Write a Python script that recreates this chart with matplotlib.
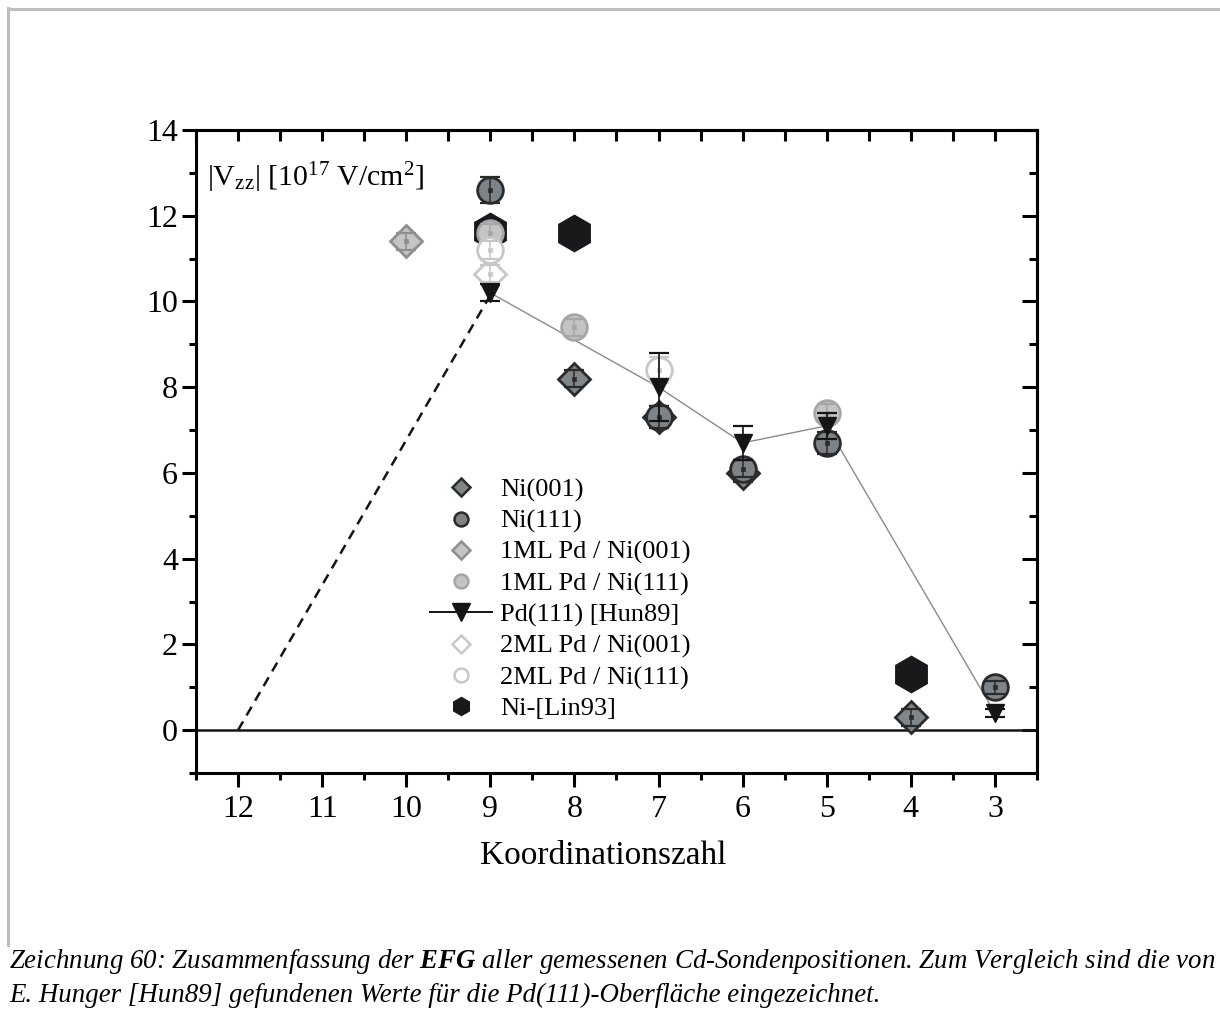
import matplotlib
matplotlib.use('Agg')
import matplotlib.pyplot as plt
from matplotlib.lines import Line2D
from matplotlib.ticker import MultipleLocator

plt.rcParams['font.family'] = ['Liberation Serif', 'DejaVu Serif']
plt.rcParams['mathtext.fontset'] = 'custom'
plt.rcParams['mathtext.rm'] = 'Liberation Serif'
plt.rcParams['mathtext.it'] = 'Liberation Serif:italic'
plt.rcParams['mathtext.bf'] = 'Liberation Serif:italic:bold'

# --- data (x = Koordinationszahl, y = |Vzz|) ---
ni001_x = [8, 7, 6, 4]
ni001_y = [8.2, 7.3, 6.0, 0.3]
ni001_err = [0.2, 0.25, 0.2, 0.2]

ni111_x = [9, 7, 6, 5, 3]
ni111_y = [12.6, 7.3, 6.1, 6.7, 1.0]
ni111_err = [0.3, 0.25, 0.2, 0.25, 0.15]

pd1_001_x = [10]
pd1_001_y = [11.4]
pd1_001_err = [0.2]

pd1_111_x = [9, 8, 5]
pd1_111_y = [11.6, 9.4, 7.4]
pd1_111_err = [0.2, 0.2, 0.2]

hun_x = [9, 7, 6, 5, 3]
hun_y = [10.2, 8.0, 6.7, 7.1, 0.4]
hun_err = [0.2, 0.8, 0.4, 0.3, 0.1]

pd2_001_x = [9]
pd2_001_y = [10.65]
pd2_001_err = [0.2]

pd2_111_x = [9, 7]
pd2_111_y = [11.2, 8.4]
pd2_111_err = [0.2, 0.3]

lin_x = [9, 8, 4]
lin_y = [11.65, 11.6, 1.3]

dash_x = [12, 9]
dash_y = [0, 10.15]

labels = ['Ni(001)', 'Ni(111)', '1ML Pd / Ni(001)', '1ML Pd / Ni(111)',
          'Pd(111) [Hun89]', '2ML Pd / Ni(001)', '2ML Pd / Ni(111)', 'Ni-[Lin93]']

caption1 = ('Zeichnung 60: Zusammenfassung der $\\mathbf{EFG}$ aller gemessenen '
            'Cd-Sondenpositionen. Zum Vergleich sind die von')
caption2 = 'E. Hunger [Hun89] gefundenen Werte für die Pd(111)-Oberfläche eingezeichnet.'

fig = plt.figure(figsize=(12.2, 10.11), dpi=100)
ax = fig.add_axes([196 / 1220, 1 - 773 / 1011, 841 / 1220, 643 / 1011])


def draw(x, y, err, marker, ms, fc, ec, z):
    ax.plot(x, y, ls='none', marker=marker, ms=ms, mfc=fc, mec=ec, mew=2, zorder=z)
    if err is not None:
        ax.errorbar(x, y, yerr=err, fmt='none', ecolor=ec, elinewidth=1.1,
                    capsize=7, capthick=1.6, zorder=z + 0.3)
    ax.plot(x, y, ls='none', marker='s', ms=2.2, mfc=ec, mec=ec, mew=0.5, zorder=z + 0.4)


draw(lin_x, lin_y, None, 'h', 25, '#19191b', '#19191b', 2)
draw(ni001_x, ni001_y, ni001_err, 'D', 16, '#80868a', '#2b2b2b', 3)
draw(ni111_x, ni111_y, ni111_err, 'o', 18.5, '#7d8386', '#2b2b2b', 4)
draw(pd1_001_x, pd1_001_y, pd1_001_err, 'D', 16, '#c2c4c6', '#8c8e90', 5)
draw(pd1_111_x, pd1_111_y, pd1_111_err, 'o', 18.5, '#c2c4c6', '#a4a6a8', 6)
draw(pd2_001_x, pd2_001_y, pd2_001_err, 'D', 16, 'white', '#c8c8c8', 7)
draw(pd2_111_x, pd2_111_y, pd2_111_err, 'o', 18.5, 'white', '#c8c8c8', 8)

ax.plot(hun_x, hun_y, color='#8a8a8a', lw=1.0, zorder=2.5)
ax.plot(hun_x, hun_y, ls='none', marker='v', ms=13, mfc='#151515', mec='#151515', zorder=9)
ax.errorbar(hun_x, hun_y, yerr=hun_err, fmt='none', ecolor='#151515', elinewidth=1.2,
            capsize=7, capthick=1.6, zorder=9.3)

ax.plot(dash_x, dash_y, color='#151515', lw=1.8, dashes=(4, 2.8), zorder=2)
ax.axhline(0, color='#151515', lw=1.8, zorder=1)

ax.set_xlim(12.5, 2.5)
ax.set_ylim(-1, 14)
ax.xaxis.set_major_locator(MultipleLocator(1))
ax.xaxis.set_minor_locator(MultipleLocator(0.5))
ax.yaxis.set_major_locator(MultipleLocator(2))
ax.yaxis.set_minor_locator(MultipleLocator(1))
for s in ax.spines.values():
    s.set_linewidth(2.2)
ax.tick_params(which='major', direction='out', length=10, width=2.2, labelsize=23, pad=6,
               top=False, right=False)
ax.tick_params(which='minor', direction='out', length=5, width=2.2, top=False, right=False)
ax.tick_params(axis='y', which='major', length=10, pad=3)

sx = ax.secondary_xaxis('top')
sx.xaxis.set_major_locator(MultipleLocator(1))
sx.xaxis.set_minor_locator(MultipleLocator(0.5))
sx.tick_params(which='both', direction='in', length=8, width=2.2, labeltop=False)
sx.spines['top'].set_linewidth(2.2)
sy = ax.secondary_yaxis('right')
sy.yaxis.set_major_locator(MultipleLocator(2))
sy.yaxis.set_minor_locator(MultipleLocator(1))
sy.tick_params(which='major', direction='in', length=11, width=2.2, labelright=False)
sy.tick_params(which='minor', direction='in', length=6, width=2.2, labelright=False)
sy.spines['right'].set_linewidth(2.2)

ax.set_xlabel('Koordinationszahl', fontsize=24)
ax.xaxis.set_label_coords((603 - 196) / 841, -0.105)

ax.text(0.013, 0.912, '|V$_{\\mathrm{zz}}$| [10$^{17}$ V/cm$^{2}$]', transform=ax.transAxes,
        fontsize=21.5, va='baseline', ha='left')

# legend with smaller symbols
handles = [
    Line2D([], [], ls='none', marker='D', ms=9, mfc='#80868a', mec='#2b2b2b', mew=1.8),
    Line2D([], [], ls='none', marker='o', ms=10, mfc='#7d8386', mec='#2b2b2b', mew=1.8),
    Line2D([], [], ls='none', marker='D', ms=9, mfc='#c2c4c6', mec='#8c8e90', mew=1.8),
    Line2D([], [], ls='none', marker='o', ms=10, mfc='#c2c4c6', mec='#a4a6a8', mew=1.8),
    Line2D([], [], color='#151515', lw=1.4, marker='v', ms=13, mfc='#151515', mec='#151515'),
    Line2D([], [], ls='none', marker='D', ms=9, mfc='white', mec='#c8c8c8', mew=1.8),
    Line2D([], [], ls='none', marker='o', ms=10, mfc='white', mec='#c8c8c8', mew=1.8),
    Line2D([], [], ls='none', marker='h', ms=13, mfc='#19191b', mec='#19191b'),
]
ax.legend(handles, labels, loc='upper left', bbox_to_anchor=(430 / 1220, 1 - 478 / 1011),
          bbox_transform=fig.transFigure, frameon=False, fontsize=19, handlelength=2.35,
          handletextpad=0.3, labelspacing=0.28, borderpad=0, borderaxespad=0)

# page frame and caption
fig.add_artist(Line2D([8 / 1220, 8 / 1220], [1 - 945 / 1011, 1 - 8 / 1011],
                      color='#bebebe', lw=2.2))
fig.add_artist(Line2D([8 / 1220, 1.0], [1 - 9 / 1011, 1 - 9 / 1011], color='#bebebe', lw=2.2))
fig.text(9 / 1220, 1 - 962 / 1011, caption1, fontsize=19.35, style='italic', va='center')
fig.text(9 / 1220, 1 - 995 / 1011, caption2, fontsize=19.35, style='italic', va='center')

fig.savefig('out.png', dpi=100)
